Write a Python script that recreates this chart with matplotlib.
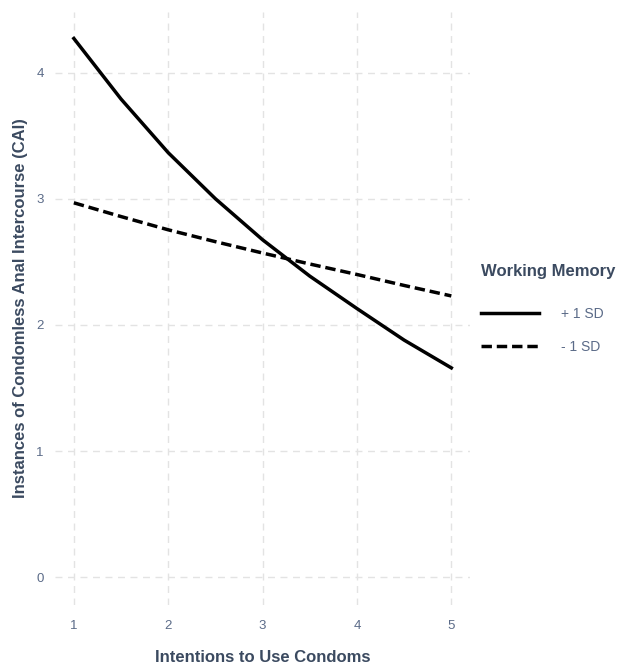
import matplotlib
matplotlib.use('Agg')
import matplotlib.pyplot as plt

# values at half-unit steps
intentions = [1, 1.5, 2, 2.5, 3, 3.5, 4, 4.5, 5]
cai_plus_1sd = [4.27, 3.79, 3.365, 3.00, 2.675, 2.387, 2.13, 1.88, 1.66]
cai_minus_1sd = [2.968, 2.859, 2.754, 2.66, 2.57, 2.483, 2.40, 2.313, 2.23]
x_ticks = [1, 2, 3, 4, 5]
y_ticks = [0, 1, 2, 3, 4]

title_col = '#3b4a60'
tick_col = '#5b6b88'
grid_col = '#e3e3e3'

plt.rcParams['font.family'] = ['Liberation Sans', 'DejaVu Sans']

fig = plt.figure(figsize=(6.32, 6.65), dpi=100)
ax = fig.add_axes([0.087, 0.090, 0.657, 0.892])

ax.plot(intentions, cai_plus_1sd, color='black', lw=2.5, label='+ 1 SD',
        solid_joinstyle='round')
ax.plot(intentions, cai_minus_1sd, color='black', lw=2.5, label='- 1 SD',
        dashes=(3.0, 1.4))

ax.set_xlim(0.8, 5.2)
ax.set_ylim(-0.22, 4.48)
ax.set_xticks(x_ticks)
ax.set_yticks(y_ticks)
ax.grid(True, color=grid_col, linestyle=(0, (5, 4)), linewidth=1.0)
ax.set_axisbelow(True)
for s in ax.spines.values():
    s.set_visible(False)
ax.tick_params(length=0, colors=tick_col, labelsize=9.5)
ax.tick_params(axis='x', pad=11)
ax.tick_params(axis='y', pad=8)

ax.set_xlabel('Intentions to Use Condoms', fontsize=12, fontweight='bold',
              color=title_col, labelpad=13)
ax.set_ylabel('Instances of Condomless Anal Intercourse (CAI)', fontsize=12,
              fontweight='bold', color=title_col, labelpad=6)

leg = ax.legend(loc='upper left', bbox_to_anchor=(0.741, 0.622),
                bbox_transform=fig.transFigure, frameon=False,
                title='Working Memory', fontsize=10, handlelength=4.2,
                handletextpad=1.6, labelspacing=1.35)
leg.get_title().set_fontweight('bold')
leg.get_title().set_fontsize(12)
leg.get_title().set_color(title_col)
leg._legend_box.align = 'left'
leg._legend_box.sep = 20.5
for t in leg.get_texts():
    t.set_color(tick_col)

fig.savefig('out.png', dpi=100)
